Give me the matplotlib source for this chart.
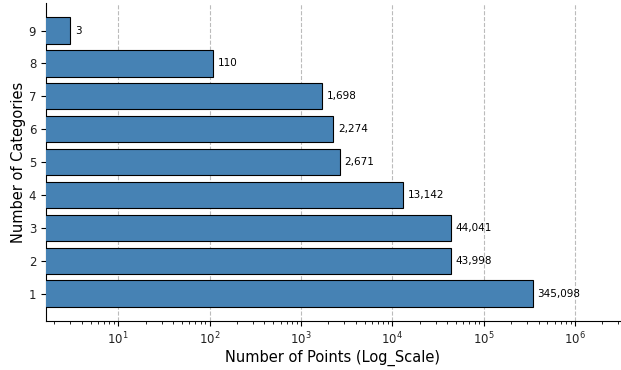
import matplotlib
matplotlib.use("Agg")
import matplotlib.pyplot as plt
from matplotlib.ticker import NullFormatter

categories = [1, 2, 3, 4, 5, 6, 7, 8, 9]
counts = [345098, 43998, 44041, 13142, 2671, 2274, 1698, 110, 3]

fig = plt.figure(figsize=(6.21, 3.70), dpi=100)
ax = fig.add_axes([0.074, 0.132, 0.924, 0.860])
ax.barh(categories, counts, color="steelblue", edgecolor="black", linewidth=0.8, height=0.8, zorder=3)
ax.set_xscale("log")
ax.set_xlim(1.62, 3.1e6)
ax.set_ylim(0.16, 9.84)
ax.xaxis.set_minor_formatter(NullFormatter())
ax.set_yticks(categories)
ax.set_yticklabels([str(c) for c in categories])
for c, v in zip(categories, counts):
    ax.text(v * 1.12, c, f"{v:,}", va="center", ha="left", fontsize=7.5)
ax.grid(axis="x", which="major", linestyle="--", color="#bbbbbb", linewidth=0.8, zorder=0)
ax.spines["top"].set_visible(False)
ax.spines["right"].set_visible(False)
ax.tick_params(axis="both", labelsize=8.5, labelcolor="#222222")
ax.set_xlabel("Number of Points (Log_Scale)", fontsize=10.5, labelpad=2)
ax.set_ylabel("Number of Categories", fontsize=10.5, labelpad=2)
fig.savefig("out.png", dpi=100)
